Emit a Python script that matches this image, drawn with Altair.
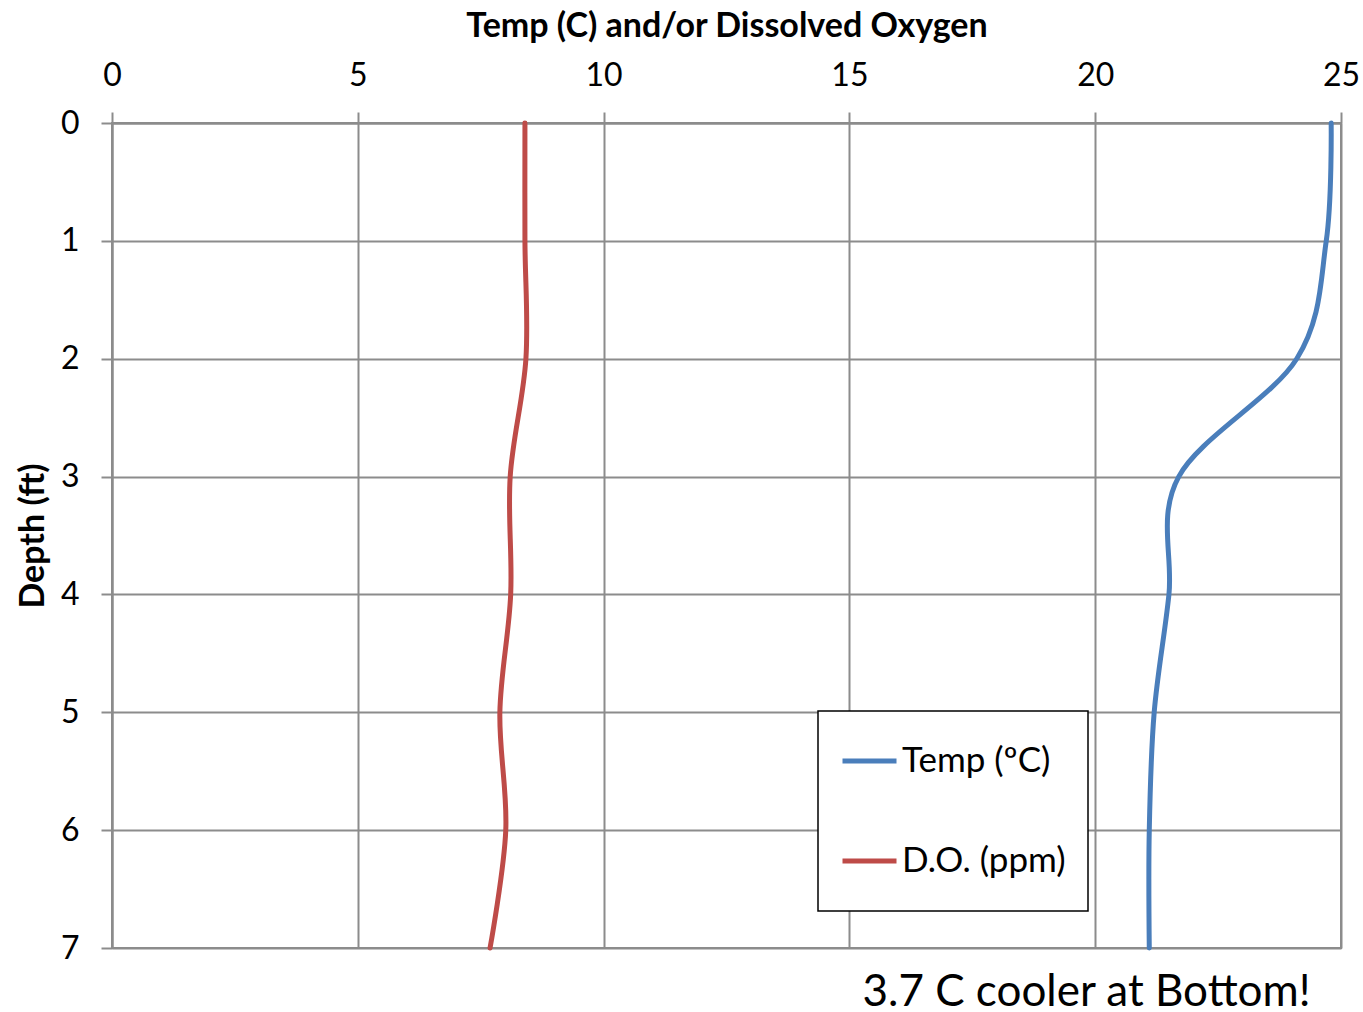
import altair as alt
import pandas as pd

depths = [0, 1, 2, 3, 4, 5, 6, 7]
temp_c = [24.8, 24.7, 24.1, 21.7, 21.5, 21.2, 21.1, 21.1]
do_ppm = [8.40, 8.40, 8.42, 8.10, 8.11, 7.89, 8.01, 7.69]
series_names = ["Temp (ºC)", "D.O. (ppm)"]
series_colors = ["#4A7EBB", "#BE4B48"]
x_ticks = [0, 5, 10, 15, 20, 25]
y_ticks = [0, 1, 2, 3, 4, 5, 6, 7]

rows = []
for d, t in zip(depths, temp_c):
    rows.append({"series": series_names[0], "depth": d, "value": t})
for d, o in zip(depths, do_ppm):
    rows.append({"series": series_names[1], "depth": d, "value": o})
df = pd.DataFrame(rows)

FONT = "Lato"
GRID = "#8c8c8c"

chart = (
    alt.Chart(df)
    .mark_line(strokeWidth=5, interpolate="cardinal", strokeCap="round")
    .encode(
        x=alt.X(
            "value:Q",
            scale=alt.Scale(domain=[0, 25], nice=False, zero=False),
            axis=alt.Axis(
                orient="top",
                values=x_ticks,
                title="Temp (C) and/or Dissolved Oxygen",
                titleFontSize=34,
                titleFontWeight="bold",
                titlePadding=16,
                labelFontSize=32,
                labelPadding=20,
                labelFlush=False,
                tickSize=11,
            ),
        ),
        y=alt.Y(
            "depth:Q",
            scale=alt.Scale(domain=[0, 7], reverse=True, nice=False),
            axis=alt.Axis(
                values=y_ticks,
                title="Depth (ft)",
                titleFontSize=34,
                titleFontWeight="bold",
                titlePadding=10,
                labelFontSize=32,
                labelPadding=22,
                labelFlush=False,
                tickSize=11,
            ),
        ),
        color=alt.Color(
            "series:N",
            scale=alt.Scale(domain=series_names, range=series_colors),
            legend=alt.Legend(
                title=None,
                orient="none",
                legendX=706,
                legendY=588,
                symbolType="stroke",
                symbolSize=2916,
                symbolStrokeWidth=5,
                labelFontSize=35,
                labelOffset=3,
                labelLimit=400,
                clipHeight=56,
                rowPadding=44,
                padding=22,
                strokeColor="black",
                fillColor="white",
            ),
        ),
        order="depth:Q",
    )
    .properties(
        width=1229,
        height=825,
        autosize=alt.AutoSizeParams(type="none"),
        padding={"left": 112, "top": 123, "right": 22, "bottom": 64},
        title=alt.TitleParams(
            "3.7 C cooler at Bottom!",
            orient="bottom",
            anchor="end",
            fontSize=44,
            fontWeight="normal",
            font=FONT,
            color="black",
            offset=7,
            dx=-49,
        ),
    )
    .configure(font=FONT)
    .configure_axis(
        gridColor=GRID,
        gridWidth=2,
        gridOpacity=1,
        tickColor=GRID,
        tickWidth=2,
        domainColor=GRID,
        domainWidth=2,
        labelColor="black",
        titleColor="black",
        labelFont=FONT,
        titleFont=FONT,
    )
    .configure_legend(labelFont=FONT, labelColor="black", strokeWidth=1.5)
    .configure_view(stroke=GRID, strokeWidth=2)
)

chart.save("out.html", embed_options={"renderer": "svg", "actions": False})
